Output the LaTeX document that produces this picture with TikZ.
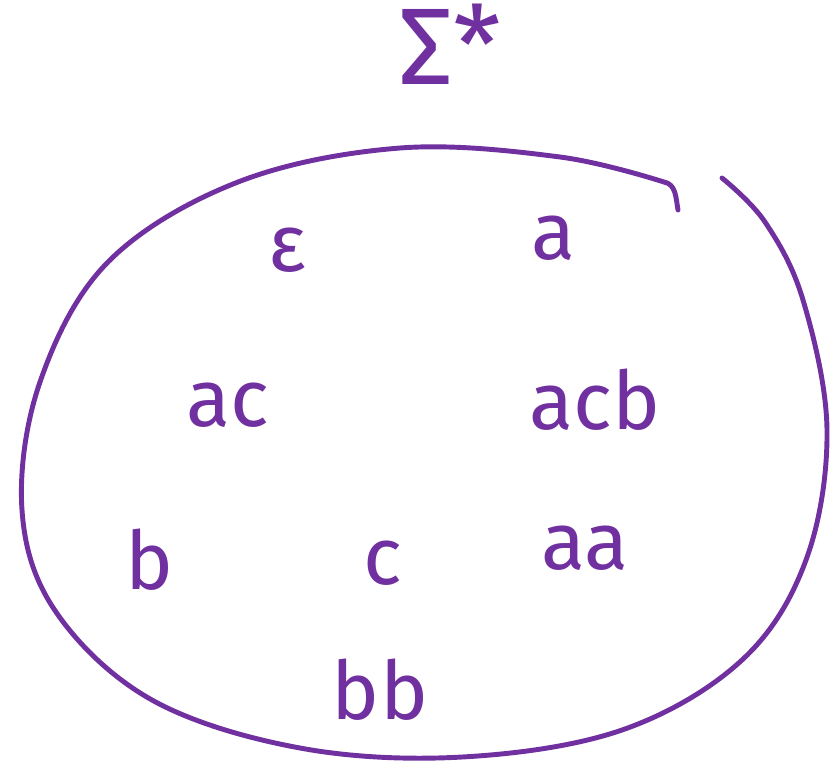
\documentclass[tikz,border=0pt]{standalone}
\usepackage{fontspec}
\setsansfont{Fira Sans}
\usepackage{tikz}
\definecolor{pen_purple}{HTML}{7030A0}

\begin{document}
\begin{tikzpicture}[x=0.02cm,y=-0.02cm,
    word/.style={pen_purple,font=\sffamily\fontsize{46}{50}\selectfont}]

    \useasboundingbox (0,0) rectangle (838,769);

    % the set, drawn as one open loop
    \draw[pen_purple,line width=2.8pt,line cap=round,line join=round]
        plot[smooth,tension=0.6] coordinates {(722,178) (765,222) (803,300)
        (827,430) (806,560) (742,660) (622,730) (462,757) (300,748)
        (152,700) (56,612) (22,510) (40,382) (108,262) (238,182) (400,148)
        (560,157) (664,182)}
        to[out=-10,in=100] (678,210);

    \node[word,font=\sffamily\fontsize{62}{66}\selectfont] (sigstar) at (450,44) {Σ*};

    \node[word] (eps) at (287,250) {ε};
    \node[word] (a) at (553,238) {a};
    \node[word] (ac) at (228,405) {ac};
    \node[word] (acb) at (595,400) {acb};
    \node[word] (b) at (150,560) {b};
    \node[word] (c) at (383,563) {c};
    \node[word] (aa) at (585,548) {aa};
    \node[word] (bb) at (380,690) {bb};

\end{tikzpicture}
\end{document}
